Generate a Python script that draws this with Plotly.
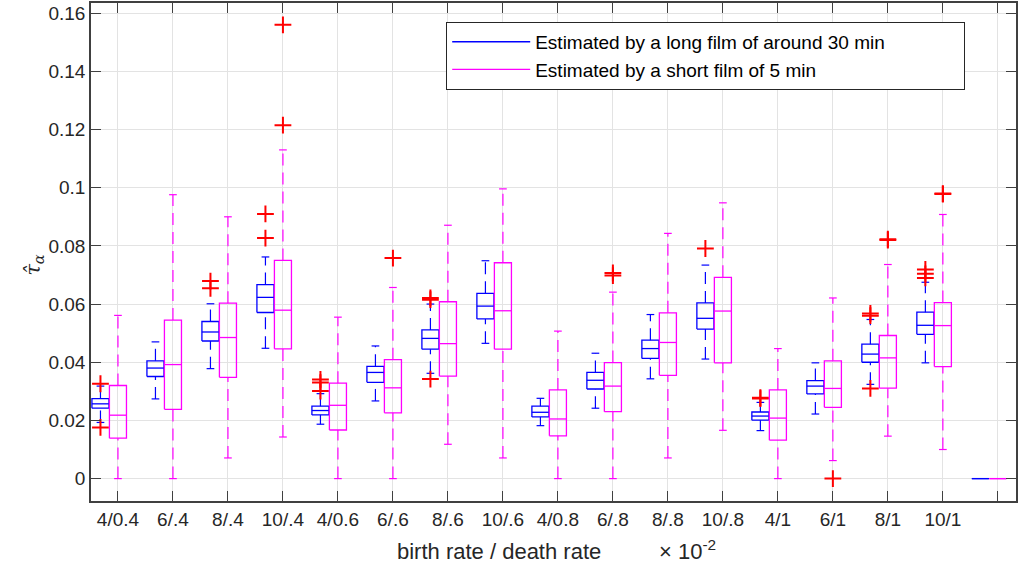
"""
tau_alpha 估计值的箱线图（长片 vs 短片）
Boxplot of estimated tau_alpha, long film vs short film
"""

import plotly.graph_objects as go

# 分组（出生率 / 死亡率），最后一个空组
groups = ["4/0.4", "6/.4", "8/.4", "10/.4", "4/0.6", "6/.6", "8/.6", "10/.6",
          "4/0.8", "6/.8", "8/.8", "10/.8", "4/1", "6/1", "8/1", "10/1", ""]

# 长片（约 30 min）箱线图统计量
long_lw = [0.0193, 0.0274, 0.0378, 0.0448, 0.0187, 0.0267, 0.0362, 0.0465,
           0.0182, 0.0242, 0.0343, 0.0411, 0.0165, 0.0222, 0.0324, 0.0398, 0]
long_q1 = [0.0242, 0.0351, 0.0473, 0.0571, 0.0219, 0.0331, 0.0445, 0.0549,
           0.0212, 0.0308, 0.0413, 0.0514, 0.0201, 0.0291, 0.0400, 0.0496, 0]
long_med = [0.0257, 0.0380, 0.0504, 0.0623, 0.0234, 0.0365, 0.0482, 0.0593,
            0.0228, 0.0338, 0.0447, 0.0551, 0.0215, 0.0318, 0.0428, 0.0527, 0]
long_q3 = [0.0275, 0.0405, 0.0540, 0.0667, 0.0249, 0.0386, 0.0511, 0.0637,
           0.0249, 0.0365, 0.0476, 0.0604, 0.0229, 0.0337, 0.0462, 0.0572, 0]
long_uw = [0.0318, 0.0470, 0.0601, 0.0762, 0.0292, 0.0456, 0.0600, 0.0749,
           0.0276, 0.0431, 0.0564, 0.0734, 0.0262, 0.0398, 0.0547, 0.0675, 0]
long_out = [[0.0326, 0.0176], [], [0.0654, 0.0679], [0.0827, 0.0910],
            [0.0301, 0.0330, 0.0341], [], [0.0621, 0.0615, 0.0342], [],
            [], [], [], [0.0791], [0.0275, 0.0278], [],
            [0.0568, 0.0560, 0.0310], [0.0690, 0.0704, 0.0719], []]

# 短片（5 min）箱线图统计量
short_lw = [0, 0, 0.0071, 0.0143, 0, 0, 0.0118, 0.0071,
            0, 0, 0.0071, 0.0166, 0, 0.0062, 0.0146, 0.0100, 0]
short_q1 = [0.0139, 0.0238, 0.0348, 0.0446, 0.0167, 0.0226, 0.0352, 0.0445,
            0.0147, 0.0230, 0.0355, 0.0398, 0.0132, 0.0245, 0.0311, 0.0385, 0]
short_med = [0.0218, 0.0392, 0.0485, 0.0579, 0.0252, 0.0312, 0.0464, 0.0577,
             0.0205, 0.0318, 0.0468, 0.0576, 0.0208, 0.0310, 0.0415, 0.0526, 0]
short_q3 = [0.0320, 0.0545, 0.0603, 0.0750, 0.0328, 0.0409, 0.0608, 0.0742,
            0.0305, 0.0399, 0.0570, 0.0692, 0.0305, 0.0405, 0.0492, 0.0605, 0]
short_uw = [0.0561, 0.0976, 0.0900, 0.1130, 0.0555, 0.0657, 0.0871, 0.0996,
            0.0507, 0.0641, 0.0843, 0.0948, 0.0447, 0.0621, 0.0736, 0.0908, 0]
short_out = [[], [], [], [0.1215, 0.1560], [], [0.0758], [], [],
             [], [0.0698, 0.0707], [], [], [], [0.0], [0.0820, 0.0823],
             [0.0978, 0.0980], []]

y_ticks = [0, 0.02, 0.04, 0.06, 0.08, 0.1, 0.12, 0.14, 0.16]
y_tick_text = ["0", "0.02", "0.04", "0.06", "0.08", "0.1", "0.12", "0.14", "0.16"]

FONT = "Liberation Sans, Arial, sans-serif"
HALF = 0.155   # 半箱宽
CAP = 0.07     # 须端半宽
PAD = "\u00a0" * 14  # 图例加宽


def add_boxes(fig, offset, lw, q1, med, q3, uw, outliers, color, name):
    """
    按 MATLAB boxplot 风格绘制一组箱线图
    Draw one series of MATLAB-style boxes
    """
    bx, by, mx, my, wx, wy, cx, cy, ox, oy = [], [], [], [], [], [], [], [], [], []
    for i in range(len(lw)):
        c = i + 1 + offset
        # 箱体
        bx += [c - HALF, c + HALF, c + HALF, c - HALF, c - HALF, None]
        by += [q1[i], q1[i], q3[i], q3[i], q1[i], None]
        # 中位数
        mx += [c - HALF, c + HALF, None]
        my += [med[i], med[i], None]
        if uw[i] == 0 and q3[i] == 0:
            continue
        # 须
        wx += [c, c, None, c, c, None]
        wy += [lw[i], q1[i], None, q3[i], uw[i], None]
        cx += [c - CAP, c + CAP, None, c - CAP, c + CAP, None]
        cy += [lw[i], lw[i], None, uw[i], uw[i], None]
        for v in outliers[i]:
            ox.append(c)
            oy.append(v)

    fig.add_trace(go.Scatter(x=wx, y=wy, mode="lines", showlegend=False,
                             line=dict(color=color, width=1.2, dash="12px,7px"),
                             hoverinfo="skip"))
    fig.add_trace(go.Scatter(x=cx, y=cy, mode="lines", showlegend=False,
                             line=dict(color=color, width=1.2), hoverinfo="skip"))
    fig.add_trace(go.Scatter(x=bx, y=by, mode="lines", name=name,
                             line=dict(color=color, width=1.3)))
    fig.add_trace(go.Scatter(x=mx, y=my, mode="lines", showlegend=False,
                             line=dict(color=color, width=1.3), hoverinfo="skip"))
    fig.add_trace(go.Scatter(x=ox, y=oy, mode="markers", showlegend=False,
                             marker=dict(symbol="cross-thin", size=12,
                                         line=dict(color="#ff0000", width=2))))


fig = go.Figure()

add_boxes(fig, -0.318, long_lw, long_q1, long_med, long_q3, long_uw, long_out,
          "#0000ff", "Estimated by a long film of around 30 min" + PAD)
add_boxes(fig, 0.0, short_lw, short_q1, short_med, short_q3, short_uw, short_out,
          "#ff00ff", "Estimated by a short film of 5 min")

axis_common = dict(
    showline=True, linecolor="#404040", linewidth=1.5, mirror="allticks",
    ticks="inside", ticklen=10, tickcolor="#404040", tickwidth=1,
    showgrid=True, gridcolor="#e3e3e3", gridwidth=1, zeroline=False,
    automargin=False,
    tickfont=dict(family=FONT, size=19, color="#262626"),
)

fig.update_layout(
    width=1024, height=574,
    margin=dict(l=91, r=8, t=3, b=73),
    plot_bgcolor="white", paper_bgcolor="white",
    font=dict(family=FONT, color="#262626"),
    xaxis=dict(range=[0.51, 17.33], tickmode="array",
               tickvals=list(range(1, len(groups) + 1)), ticktext=groups,
               **axis_common),
    yaxis=dict(range=[-0.0077, 0.1635], tickmode="array",
               tickvals=y_ticks, ticktext=y_tick_text, **axis_common),
    legend=dict(x=0.384, y=0.962, xanchor="left", yanchor="top",
                bgcolor="white", bordercolor="#262626", borderwidth=1,
                font=dict(family=FONT, size=19, color="#000000"),
                itemwidth=78, tracegroupgap=0),
    showlegend=True,
)

# 坐标轴标签
fig.add_annotation(text="birth rate / death rate", xref="paper", yref="paper",
                   x=0.441, y=-0.102, yanchor="middle", showarrow=False,
                   font=dict(family=FONT, size=22, color="#262626"))
fig.add_annotation(text="× 10<sup>-2</sup>", xref="paper", yref="paper",
                   x=0.645, y=-0.098, yanchor="middle", showarrow=False,
                   font=dict(family=FONT, size=22, color="#262626"))
fig.add_annotation(text="<i>τ̂</i><sub><i>α</i></sub>", xref="paper", yref="paper",
                   x=-0.078, y=0.474, textangle=-90, showarrow=False,
                   font=dict(family="DejaVu Serif, serif", size=21, color="#262626"))

# 去掉页面默认边距，使图与窗口对齐
fig.write_html("out.html", config={"displayModeBar": False},
               post_script="document.body.style.margin='0';")
